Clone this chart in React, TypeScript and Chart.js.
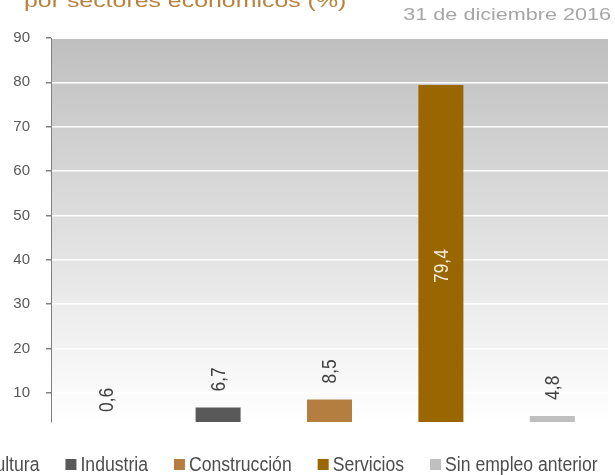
import React, { useEffect, useRef } from "react";
import { Chart, registerables } from "chart.js";

Chart.register(...registerables);

const categories = ["Agricultura", "Industria", "Construcción", "Servicios", "Sin empleo anterior"];
const values = [0.6, 6.7, 8.5, 79.4, 4.8];
const barColors = ["#7F6000", "#595959", "#B47E41", "#996600", "#BFBFBF"];
const yTicks = [10, 20, 30, 40, 50, 60, 70, 80, 90];
const titleText = "por sectores económicos (%)";
const dateText = "31 de diciembre 2016";
const AXIS_MIN = 3.42;
const AXIS_MAX = 90;

const SANS = "'Liberation Sans', Arial, sans-serif";
const LABEL_SX = 0.83;
const LEGEND_SX = 0.88;

const fmt = (v: number) => v.toFixed(1).replace(".", ",");

function stretchedText(ctx: CanvasRenderingContext2D, text: string, x: number, y: number, font: string, color: string, sx: number, align: "left" | "right") {
  ctx.save();
  ctx.font = font;
  ctx.fillStyle = color;
  ctx.textBaseline = "alphabetic";
  ctx.textAlign = "left";
  const w = ctx.measureText(text).width * sx;
  const startX = align === "right" ? x - w : x;
  ctx.translate(startX, y);
  ctx.scale(sx, 1);
  ctx.fillText(text, 0, 0);
  ctx.restore();
}

const backgroundPlugin = {
  id: "plotGradient",
  beforeDraw(chart: any) {
    const { ctx, chartArea } = chart;
    const { left, top, right, bottom } = chartArea;
    const g = ctx.createLinearGradient(0, top, 0, bottom);
    g.addColorStop(0, "#BFBFBF");
    g.addColorStop(1, "#FFFFFF");
    ctx.save();
    ctx.fillStyle = g;
    ctx.fillRect(left + 1, top + 1, right - left - 1, bottom - top - 1);
    ctx.restore();
  },
};

const labelsPlugin = {
  id: "barLabels",
  afterDatasetsDraw(chart: any) {
    const { ctx, chartArea } = chart;
    const meta = chart.getDatasetMeta(0);
    const yScale = chart.scales.y;
    ctx.save();
    ctx.font = `21px ${SANS}`;
    meta.data.forEach((bar: any, i: number) => {
      const v = values[i];
      const txt = fmt(v);
      const x = bar.x;
      ctx.save();
      if (v > 50) {
        const zero = yScale.getPixelForValue(0);
        const cy = (bar.y + zero) / 2 + 5;
        ctx.translate(x, cy);
        ctx.rotate(-Math.PI / 2);
        ctx.scale(LABEL_SX, 1);
        ctx.fillStyle = "#F6ECD9";
        ctx.textAlign = "center";
        ctx.textBaseline = "middle";
        ctx.fillText(txt, 0, 1);
      } else {
        const yStart = Math.min(bar.y - 16, chartArea.bottom - 10);
        ctx.translate(x, yStart);
        ctx.rotate(-Math.PI / 2);
        ctx.scale(LABEL_SX, 1);
        ctx.fillStyle = "#404040";
        ctx.textAlign = "left";
        ctx.textBaseline = "middle";
        ctx.fillText(txt, 0, 1);
      }
      ctx.restore();
    });
    ctx.restore();
  },
  afterDraw(chart: any) {
    const { ctx } = chart;
    // title (partially cut at top)
    stretchedText(ctx, titleText, 24, 7, `19px ${SANS}`, "#B8823F", 1.31, "left");
    // date
    stretchedText(ctx, dateText, 611, 19.5, `17px ${SANS}`, "#A6A6A6", 1.27, "right");
    // legend
    ctx.save();
    ctx.font = `20px ${SANS}`;
    const box = 11;
    const gapBoxText = 4;
    const gapItems = 26;
    const widths = categories.map((c) => ctx.measureText(c).width * LEGEND_SX);
    const total = widths.reduce((a, w) => a + box + gapBoxText + w, 0) + gapItems * (categories.length - 1);
    let x = 269 - total / 2;
    const yMid = 464.5;
    categories.forEach((c, i) => {
      ctx.fillStyle = barColors[i];
      ctx.fillRect(x, yMid - 5.5, box, box);
      ctx.save();
      ctx.translate(x + box + gapBoxText, yMid + 1);
      ctx.scale(LEGEND_SX, 1);
      ctx.fillStyle = "#4D4D4D";
      ctx.textAlign = "left";
      ctx.textBaseline = "middle";
      ctx.fillText(c, 0, 0);
      ctx.restore();
      x += box + gapBoxText + widths[i] + gapItems;
    });
    ctx.restore();
  },
};

export default function App() {
  const ref = useRef<HTMLCanvasElement | null>(null);
  useEffect(() => {
    if (!ref.current) return;
    const chart = new Chart(ref.current, {
      type: "bar",
      data: {
        labels: categories,
        datasets: [
          {
            data: values,
            backgroundColor: barColors,
            borderWidth: 0,
            barPercentage: 1,
            categoryPercentage: 0.404,
          },
        ],
      },
      options: {
        animation: false,
        responsive: false,
        layout: { padding: { left: 0, top: 38, right: 7, bottom: 53 } },
        plugins: {
          legend: { display: false },
          tooltip: { enabled: false },
          title: { display: false },
        },
        scales: {
          x: { display: false },
          y: {
            min: AXIS_MIN,
            max: AXIS_MAX,
            afterBuildTicks: (s: any) => {
              s.ticks = yTicks.map((v) => ({ value: v }));
            },
            afterFit: (s: any) => {
              s.width = 51;
            },
            grid: {
              color: "#FFFFFF",
              lineWidth: 1.5,
              tickColor: "#808080",
              tickLength: 5,
              drawTicks: true,
            },
            border: { display: true, color: "#808080", width: 1 },
            ticks: {
              color: "#595959",
              padding: 16,
              font: { family: SANS, size: 15 },
              callback: (v: any) => String(v),
            },
          },
        },
      },
      plugins: [backgroundPlugin, labelsPlugin],
    });
    return () => chart.destroy();
  }, []);
  return (
    <canvas
      ref={ref}
      width={615}
      height={475}
      style={{ position: "fixed", left: 0, top: 0, width: 615, height: 475 }}
    />
  );
}
